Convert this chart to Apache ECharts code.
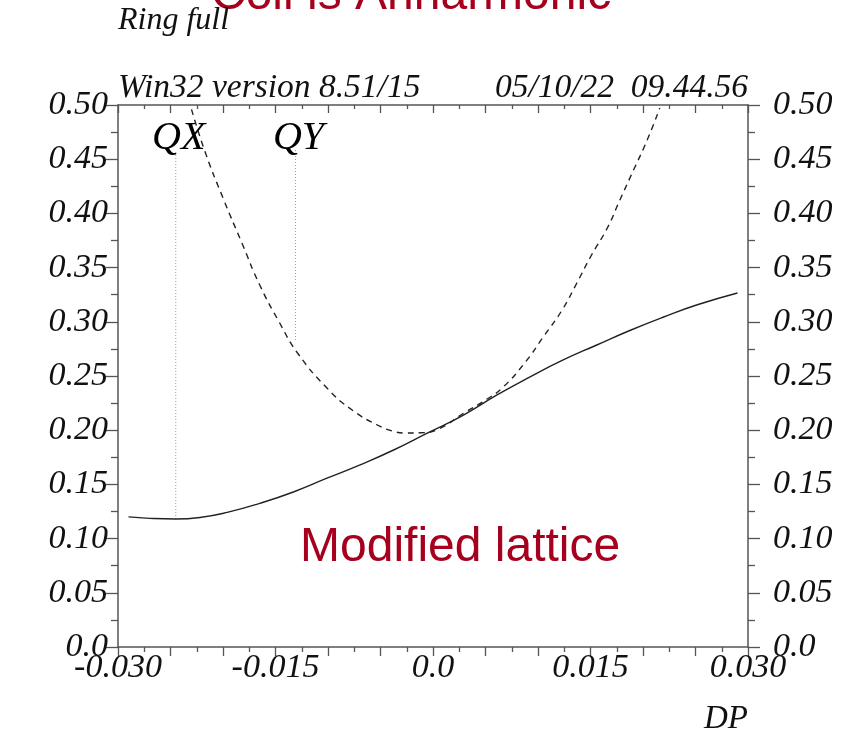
<!DOCTYPE html>
<html>
<head>
<meta charset="utf-8">
<script src="https://cdn.jsdelivr.net/npm/echarts@6/dist/echarts.min.js"></script>
<style>
html,body{margin:0;padding:0;background:#fff;}
#chart{width:859px;height:731px;}
</style>
</head>
<body>
<div id="chart"></div>
<script>
// ---- data ----
const solidX = [-0.0290, -0.0270, -0.0245, -0.0222, -0.0196, -0.0165, -0.0133, -0.0101, -0.0070, -0.0038, -0.0005, 0.0029, 0.0061, 0.0092, 0.0124, 0.0156, 0.0188, 0.0219, 0.0251, 0.0290];
const solidY = [0.1200, 0.1187, 0.1181, 0.1195, 0.1242, 0.1325, 0.1430, 0.1557, 0.1678, 0.1815, 0.1975, 0.2140, 0.2325, 0.2490, 0.2648, 0.2786, 0.2922, 0.3042, 0.3155, 0.3266];

const dashX = [-0.0230, -0.0217, -0.0200, -0.0182, -0.0165, -0.0146, -0.0129, -0.0101, -0.0077, -0.0053, -0.0039, -0.0025, -0.0012, 0.0005, 0.0029, 0.0052, 0.0067, 0.0088, 0.0105, 0.0123, 0.0137, 0.0151, 0.0166, 0.0178, 0.0191, 0.0204, 0.0216];
const dashY = [0.4960, 0.4566, 0.4142, 0.3727, 0.3339, 0.2989, 0.2712, 0.2389, 0.2186, 0.2048, 0.1993, 0.1974, 0.1976, 0.2010, 0.2155, 0.2290, 0.2399, 0.2629, 0.2860, 0.3109, 0.3358, 0.3616, 0.3865, 0.4124, 0.4400, 0.4677, 0.4972];

const qNames = ['QX', 'QY'];
const qX = [-0.0245, -0.0131];
const qBottom = [0.1181, 0.2832];
const qTop = [0.4585, 0.4585];

const xLabelValues = [-0.030, -0.015, 0.0, 0.015, 0.030];
const xLabelTexts = ['-0.030', '-0.015', '0.0', '0.015', '0.030'];
const yLabelValues = [0, 0.05, 0.10, 0.15, 0.20, 0.25, 0.30, 0.35, 0.40, 0.45, 0.50];
const yLabelTexts = ['0.0', '0.05', '0.10', '0.15', '0.20', '0.25', '0.30', '0.35', '0.40', '0.45', '0.50'];

const titleText = 'Coil is Anharmonic';
const noteText = 'Modified lattice';
const ringText = 'Ring full';
const versionText = 'Win32 version 8.51/15';
const dateText = '05/10/22  09.44.56';
const xName = 'DP';

// ---- chart ----
const serif = '"Liberation Serif", "Times New Roman", serif';
const axisColor = '#555';
const textColor = '#111';
const red = '#a6001e';

function lookup(vals, texts, v) {
  for (let i = 0; i < vals.length; i++) {
    if (Math.abs(vals[i] - v) < 1e-7) return texts[i];
  }
  return '';
}

const labelStyle = {fontFamily: serif, fontStyle: 'italic', fontSize: 34, color: textColor};

const chart = echarts.init(document.getElementById('chart'), null, {renderer: 'canvas'});

const series = [
  {
    type: 'line', smooth: true, symbol: 'none', xAxisIndex: 0, yAxisIndex: 0,
    data: solidX.map((x, i) => [x, solidY[i]]),
    lineStyle: {color: '#222', width: 1.4}, z: 3
  },
  {
    type: 'line', smooth: true, symbol: 'none', xAxisIndex: 0, yAxisIndex: 0,
    data: dashX.map((x, i) => [x, dashY[i]]),
    lineStyle: {color: '#222', width: 1.4, type: [6, 5]}, z: 3
  }
];
qX.forEach((x, i) => {
  series.push({
    type: 'line', symbol: 'none', xAxisIndex: 0, yAxisIndex: 0,
    data: [[x, qBottom[i]], [x, qTop[i]]],
    lineStyle: {color: '#999', width: 1, type: [1, 2]}, z: 2
  });
});
series.push({
  type: 'scatter', symbolSize: 0, xAxisIndex: 0, yAxisIndex: 0,
  data: qX.map((x, i) => ({value: [x, qTop[i]], name: qNames[i]})),
  itemStyle: {opacity: 1},
  label: {
    show: true, position: 'top', distance: 0, offset: [3, 8],
    formatter: p => p.name,
    fontFamily: serif, fontStyle: 'italic', fontSize: 40, color: '#000', opacity: 1
  },
  silent: true, z: 4
});

const option = {
  animation: false,
  backgroundColor: '#fff',
  grid: {left: 118, right: 111, top: 105, bottom: 84, containLabel: false},
  xAxis: [
    {
      type: 'value', position: 'bottom', min: -0.03, max: 0.03, interval: 0.005,
      axisLine: {show: true, onZero: false, lineStyle: {color: axisColor, width: 1.5}},
      axisTick: {show: true, inside: false, length: 9, lineStyle: {color: axisColor, width: 1.3}},
      minorTick: {show: true, splitNumber: 2, length: 5, lineStyle: {color: axisColor, width: 1.3}},
      axisLabel: Object.assign({margin: 4, formatter: v => lookup(xLabelValues, xLabelTexts, v), showMinLabel: true, showMaxLabel: true, hideOverlap: false}, labelStyle),
      splitLine: {show: false}
    },
    {
      type: 'value', position: 'top', min: -0.03, max: 0.03, interval: 0.005,
      axisLine: {show: true, onZero: false, lineStyle: {color: axisColor, width: 1.5}},
      axisTick: {show: true, inside: true, length: 8, lineStyle: {color: axisColor, width: 1.3}},
      minorTick: {show: true, splitNumber: 2, length: 4, lineStyle: {color: axisColor, width: 1.3}},
      axisLabel: {show: false},
      splitLine: {show: false}
    }
  ],
  yAxis: [
    {
      type: 'value', position: 'left', min: 0, max: 0.5, interval: 0.05,
      axisLine: {show: true, onZero: false, lineStyle: {color: axisColor, width: 1.5}},
      axisTick: {show: true, inside: false, length: 12, lineStyle: {color: axisColor, width: 1.3}},
      minorTick: {show: true, splitNumber: 2, length: 7, lineStyle: {color: axisColor, width: 1.3}},
      axisLabel: Object.assign({margin: 10, formatter: v => lookup(yLabelValues, yLabelTexts, v)}, labelStyle),
      splitLine: {show: false}
    },
    {
      type: 'value', position: 'right', min: 0, max: 0.5, interval: 0.05,
      axisLine: {show: true, onZero: false, lineStyle: {color: axisColor, width: 1.5}},
      axisTick: {show: true, inside: false, length: 12, lineStyle: {color: axisColor, width: 1.3}},
      minorTick: {show: true, splitNumber: 2, length: 7, lineStyle: {color: axisColor, width: 1.3}},
      axisLabel: Object.assign({margin: 25, formatter: v => lookup(yLabelValues, yLabelTexts, v)}, labelStyle),
      splitLine: {show: false}
    }
  ],
  graphic: [
    {type: 'text', z: 10, x: 211, y: -28, style: {text: titleText, font: '48px "Liberation Sans", Arial, sans-serif', fill: red}},
    {type: 'text', z: 10, x: 300, y: 524, style: {text: noteText, font: '48px "Liberation Sans", Arial, sans-serif', fill: red}},
    {type: 'text', z: 10, x: 118, y: 5, style: {text: ringText, font: 'italic 32px ' + serif, fill: textColor}},
    {type: 'text', z: 10, x: 118, y: 71, style: {text: versionText, font: 'italic 33.5px ' + serif, fill: textColor}},
    {type: 'text', z: 10, x: 748, y: 71, style: {text: dateText, font: 'italic 33.5px ' + serif, fill: textColor, align: 'right'}},
    {type: 'text', z: 10, x: 748, y: 703, style: {text: xName, font: 'italic 33px ' + serif, fill: textColor, align: 'right'}}
  ],
  series: series
};
chart.setOption(option);
</script>
</body>
</html>
